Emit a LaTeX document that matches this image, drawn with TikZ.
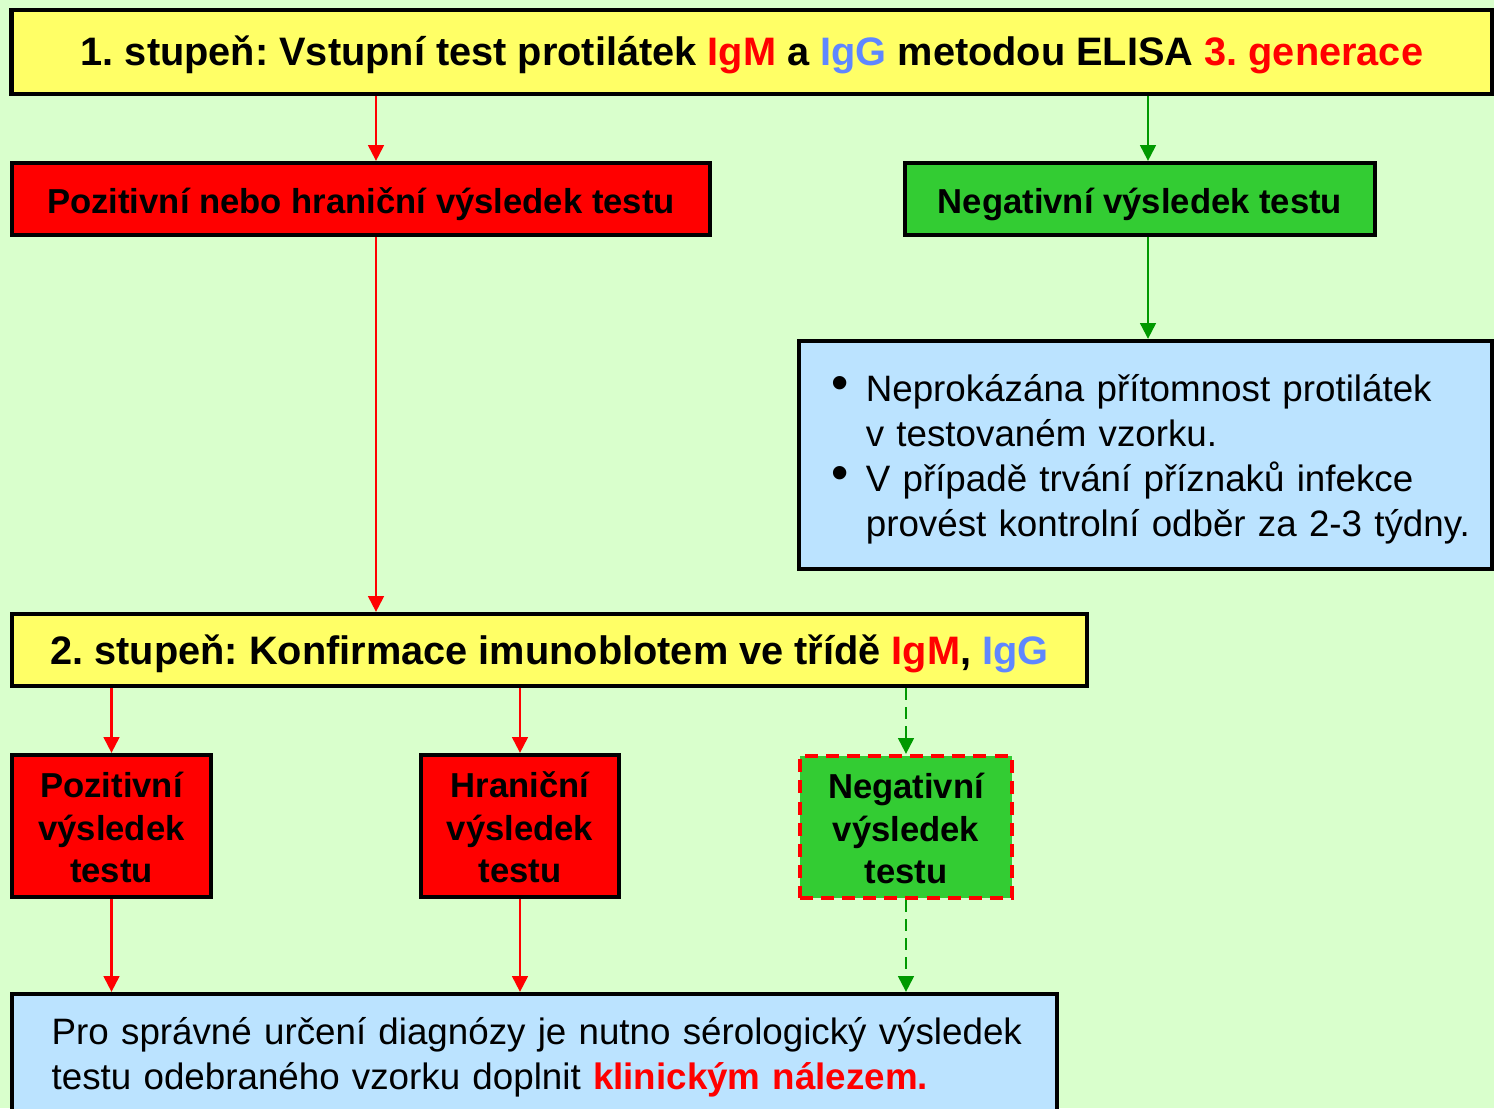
\documentclass[tikz,border=0pt]{standalone}
\usepackage{fontspec}
\setmainfont{Liberation Sans}
\usepackage{xcolor}
\usepackage{tikz}
\usetikzlibrary{arrows.meta}
\definecolor{bgcol}{RGB}{217,255,204}
\definecolor{yelcol}{RGB}{255,255,102}
\definecolor{redcol}{RGB}{255,0,0}
\definecolor{grncol}{RGB}{51,204,51}
\definecolor{blucol}{RGB}{187,227,255}
\definecolor{iggcol}{RGB}{95,135,255}
\definecolor{arrcol}{RGB}{0,153,0}
\newcommand{\blt}{\hspace*{0.14cm}\makebox[0.34cm][l]{\raisebox{0.6pt}{\fontsize{14}{14}\selectfont\textbullet}}}
\newcommand{\bind}{\hspace*{0.48cm}}
\newcommand{\tstrut}[1]{\rule{0pt}{#1}}
\frenchspacing

\begin{document}
\begin{tikzpicture}[x=0.01cm, y=-0.01cm,
  every node/.style={rectangle, draw, line width=1.2pt, inner sep=0pt, align=center,
    font=\bfseries\fontsize{9.85}{12}\selectfont},
  yelbox/.style={fill=yelcol, font=\bfseries\fontsize{11.3}{12.8}\selectfont},
  redbox/.style={fill=redcol},
  grnbox/.style={fill=grncol},
  blubox/.style={fill=blucol, align=left, font=\fontsize{10.45}{12.8}\selectfont},
  redarr/.style={draw=redcol, line width=0.6pt, -{Triangle[width=4.5pt,length=4.5pt]}},
  grnarr/.style={draw=arrcol, line width=0.6pt, -{Triangle[width=4.5pt,length=4.5pt]}}]
     \useasboundingbox (0,0) rectangle (1494,1108);
     \clip (0,0) rectangle (1494,1108);
     \fill[bgcol] (0,0) rectangle (1494,1108);

     \node[yelbox, minimum width=14.8cm, minimum height=0.84cm] (S1) at (752,52)
       {\tstrut{9.9pt}1. stupeň: Vstupní test protilátek \textcolor{redcol}{IgM} a \textcolor{iggcol}{IgG} metodou ELISA \textcolor{redcol}{3. generace}};
     \node[redbox, minimum width=6.98cm, minimum height=0.72cm] (P1) at (361,199) {\tstrut{10.3pt}Pozitivní nebo hraniční výsledek testu};
     \node[grnbox, minimum width=4.7cm, minimum height=0.72cm] (N1) at (1140,199) {\tstrut{10.3pt}Negativní výsledek testu};
     \node[blubox, text width=6.55cm, inner xsep=0.19cm, minimum height=2.28cm] (NN) at (1145.5,455)
       {\tstrut{10.3pt}\blt Neprokázána přítomnost protilátek\\
        \bind v testovaném vzorku.\\
        \blt V případě trvání příznaků infekce\\
        \bind provést kontrolní odběr za 2-3 týdny.};
     \node[yelbox, minimum width=10.75cm, minimum height=0.72cm] (S2) at (549.5,650)
       {\tstrut{10.7pt}2. stupeň: Konfirmace imunoblotem ve třídě \textcolor{redcol}{IgM}, \textcolor{iggcol}{IgG}};
     \node[redbox, minimum width=1.99cm, minimum height=1.42cm] (P2) at (111.5,826) {\tstrut{8.1pt}Pozitivní\\výsledek\\testu};
     \node[redbox, minimum width=1.98cm, minimum height=1.42cm] (H2) at (520,826) {\tstrut{8.1pt}Hraniční\\výsledek\\testu};
     \node[grnbox, draw=redcol, dash pattern=on 3.7pt off 2.3pt, minimum width=2.12cm, minimum height=1.42cm] (N2) at (906,827)
       {\tstrut{8.1pt}Negativní\\výsledek\\testu};
     \node[blubox, text width=10.05cm, inner xsep=0.2cm, minimum height=1.21cm] (F) at (534.5,1054.5)
       {\tstrut{9.3pt}\hspace*{0.2cm}Pro správné určení diagnózy je nutno sérologický výsledek\\
        \hspace*{0.2cm}testu odebraného vzorku doplnit \textcolor{redcol}{\bfseries klinickým nálezem.}};

     \draw[redarr] ([xshift=0.15cm]P1.north |- S1.south) -- ([xshift=0.15cm]P1.north);
     \draw[grnarr] ([xshift=0.08cm]N1.north |- S1.south) -- ([xshift=0.08cm]N1.north);
     \draw[grnarr] ([xshift=0.08cm]N1.south) -- ([xshift=0.08cm]N1.south |- NN.north);
     \draw[redarr] ([xshift=0.15cm]P1.south) -- ([xshift=0.15cm]P1.south |- S2.north);
     \draw[redarr] (P2.north |- S2.south) -- (P2.north);
     \draw[redarr] (H2.north |- S2.south) -- (H2.north);
     \draw[grnarr, dash pattern=on 3.4pt off 2pt] (N2.north |- S2.south) -- (N2.north);
     \draw[redarr] (P2.south) -- (P2.south |- F.north);
     \draw[redarr] (H2.south) -- (H2.south |- F.north);
     \draw[grnarr, dash pattern=on 3.4pt off 2pt] (N2.south) -- (N2.south |- F.north);
\end{tikzpicture}
\end{document}
